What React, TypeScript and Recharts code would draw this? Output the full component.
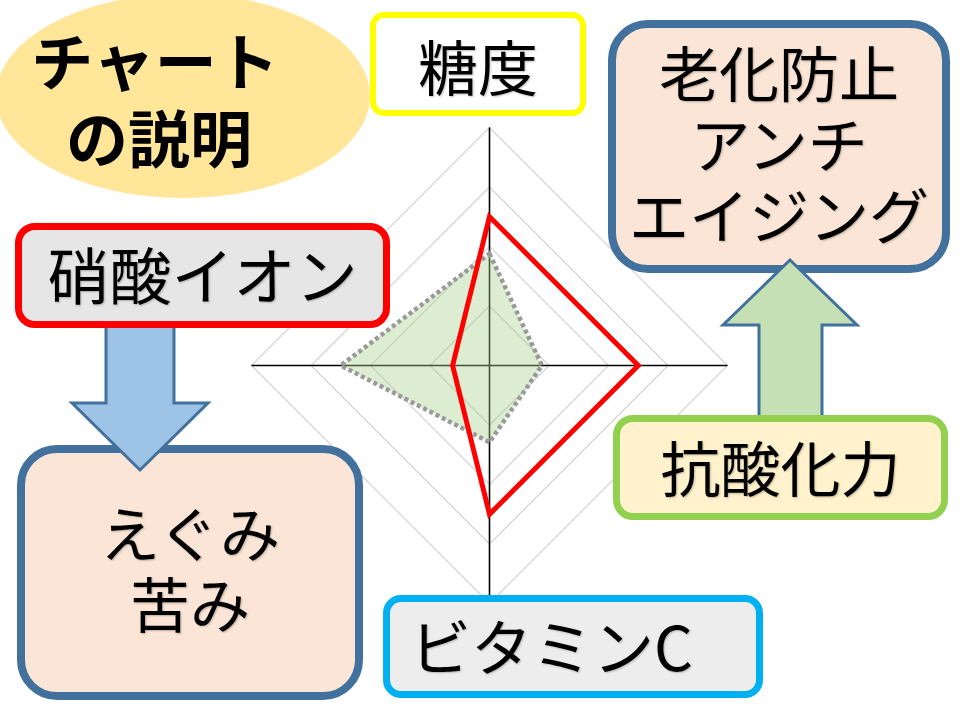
import React from 'react';
import { RadarChart, Radar, PolarGrid, PolarAngleAxis, PolarRadiusAxis } from 'recharts';

// Axis categories (clockwise from top)
const categories = ['糖度', '抗酸化力', 'ビタミンC', '硝酸イオン'];
// Highlighted variety (red outline)
const redValues = [2.5, 2.5, 2.5, 0.62];
// Reference / typical variety (grey dotted, green fill)
const grayValues = [1.88, 0.88, 1.29, 2.5];
const radiusDomain = [0, 4];

const data = categories.map((c, i) => ({ axis: c, red: redValues[i], gray: grayValues[i] }));

const FONT = "'Noto Sans CJK JP', 'Noto Sans', sans-serif";
const shadow = '1px 1px 2px rgba(0,0,0,0.25)';

const boxBase: React.CSSProperties = {
  position: 'absolute',
  boxSizing: 'border-box',
  display: 'flex',
  flexDirection: 'column',
  alignItems: 'center',
  justifyContent: 'center',
  fontFamily: FONT,
  fontSize: 60,
  lineHeight: '71px',
  color: '#000',
  textShadow: shadow,
  whiteSpace: 'nowrap',
};

export default function App() {
  return (
    <div style={{ position: 'absolute', left: 0, top: 0, width: 960, height: 720, overflow: 'hidden', background: '#fff' }}>
      <div style={{ position: 'absolute', left: 0, top: 0 }}>
        <RadarChart width={960} height={720} data={data} cx={489.5} cy={365.5} outerRadius={238} margin={{ top: 0, right: 0, bottom: 0, left: 0 }}>
          <PolarGrid gridType="polygon" radialLines={false} stroke="#d6d6d6" strokeWidth={1.3} />
          <PolarGrid gridType="circle" polarRadius={[0]} stroke="#000000" strokeWidth={1.6} strokeOpacity={1} />
          <PolarAngleAxis dataKey="axis" tick={false} axisLine={false} tickLine={false} />
          <PolarRadiusAxis domain={radiusDomain} tickCount={5} tick={false} axisLine={false} tickLine={false} />
          <Radar dataKey="gray" stroke="#9a9a9a" strokeWidth={4.5} strokeDasharray="4 3" fill="#a9d18e" fillOpacity={0.4} isAnimationActive={false} />
          <Radar dataKey="red" stroke="#ff0000" strokeWidth={5} fill="none" fillOpacity={0} strokeLinejoin="miter" isAnimationActive={false} />
        </RadarChart>
      </div>

      {/* Title ellipse */}
      <div style={{ position: 'absolute', left: -4, top: -6, width: 374, height: 204, borderRadius: '50%', background: '#ffe699' }} />
      <div style={{ ...boxBase, left: 0, top: -4, width: 310, height: 204, fontWeight: 'bold', fontSize: 62, lineHeight: '77px', textShadow: 'none' }}>
        <div>チャート</div>
        <div style={{ marginLeft: 8 }}>の説明</div>
      </div>

      {/* 糖度 */}
      <div style={{ ...boxBase, left: 370, top: 12, width: 216, height: 104, border: '6px solid #ffff00', borderRadius: 14, background: '#fff' }}>
        <div>糖度</div>
      </div>

      {/* えぐみ 苦み */}
      <div style={{ ...boxBase, left: 17, top: 445, width: 346, height: 255, border: '8px solid #41719c', borderRadius: 40, background: '#fbe5d6', paddingBottom: 14 }}>
        <div>えぐみ</div>
        <div>苦み</div>
      </div>

      {/* blue down arrow */}
      <svg style={{ position: 'absolute', left: 0, top: 0 }} width={960} height={720}>
        <polygon points="106,322 174,322 174,403 208,403 140,470 72,403 106,403" fill="#9dc3e6" stroke="#41719c" strokeWidth={3} strokeLinejoin="miter" />
      </svg>

      {/* 硝酸イオン */}
      <div style={{ ...boxBase, left: 15, top: 223, width: 375, height: 105, border: '7px solid #ff0000', borderRadius: 20, background: '#e7e6e6', paddingBottom: 4, fontSize: 62 }}>
        <div>硝酸イオン</div>
      </div>

      {/* 老化防止 */}
      <div style={{ ...boxBase, left: 608, top: 20, width: 342, height: 253, border: '8px solid #41719c', borderRadius: 40, background: '#fbe5d6', paddingBottom: 10 }}>
        <div>老化防止</div>
        <div>アンチ</div>
        <div>エイジング</div>
      </div>

      {/* green up arrow */}
      <svg style={{ position: 'absolute', left: 0, top: 0 }} width={960} height={720}>
        <polygon points="790,260 857,325 822,325 822,420 759,420 759,325 723,325" fill="#c5e0b4" stroke="#41719c" strokeWidth={3} strokeLinejoin="miter" />
      </svg>

      {/* 抗酸化力 */}
      <div style={{ ...boxBase, left: 613, top: 415, width: 335, height: 105, border: '7px solid #92d050', borderRadius: 20, background: '#fff2cc', paddingBottom: 4 }}>
        <div>抗酸化力</div>
      </div>

      {/* ビタミンC */}
      <div style={{ ...boxBase, left: 383, top: 595, width: 380, height: 103, border: '7px solid #00b0f0', borderRadius: 18, background: '#ededed', alignItems: 'flex-start', paddingLeft: 20, paddingBottom: 4, fontSize: 61 }}>
        <div>ビタミンC</div>
      </div>
    </div>
  );
}
